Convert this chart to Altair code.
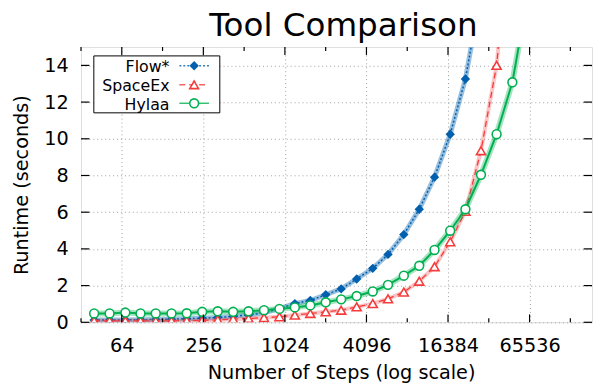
import altair as alt
import pandas as pd

# ---------------- data ----------------
steps = [40, 52, 68, 88, 114, 149, 193, 251, 327, 425, 552, 718, 933, 1213,
         1577, 2050, 2665, 3470, 4560, 5910, 7730, 10050, 13030, 17010,
         22030, 28700, 37420, 48920, 63600]
flow_runtime = [0.12, 0.12, 0.13, 0.14, 0.15, 0.17, 0.19, 0.22, 0.26, 0.32,
                0.40, 0.52, 0.74, 1.02, 1.19, 1.50, 1.82, 2.36, 2.94, 3.70,
                4.78, 6.16, 7.91, 10.25, 13.26, 18.0]
spaceex_runtime = [0.08, 0.08, 0.08, 0.08, 0.08, 0.08, 0.09, 0.10, 0.13, 0.17,
                   0.21, 0.25, 0.30, 0.39, 0.48, 0.57, 0.66, 0.84, 1.02, 1.28,
                   1.65, 2.24, 3.03, 4.39, 6.05, 9.35, 14.0, 23.0]
hylaa_runtime = [0.48, 0.48, 0.53, 0.48, 0.48, 0.48, 0.49, 0.57, 0.60, 0.57,
                 0.60, 0.66, 0.73, 0.81, 0.92, 1.09, 1.25, 1.43, 1.68, 2.04,
                 2.54, 3.08, 3.94, 4.99, 6.16, 8.04, 10.25, 13.08, 17.8]
series_names = ["Flow*", "SpaceEx", "Hylaa"]
x_major_ticks = [64, 256, 1024, 4096, 16384, 65536]
x_minor_ticks = [32, 128, 512, 2048, 8192, 32768, 131072]
y_ticks = [0, 2, 4, 6, 8, 10, 12, 14]
chart_title = "Tool Comparison"

# ---------------- styling ----------------
FONT = "DejaVu Sans"
W, H = 518, 279
FLOW_C = "#0060ad"
SPACE_C = "#f53c3c"
HYLAA_C = "#00b050"
GRID_C = "#a0a0a0"

xscale = alt.Scale(type="log", base=2, domain=[32, 189500], nice=False)
yscale = alt.Scale(domain=[0, 15], nice=False, zero=False)

x_axis = alt.Axis(values=x_major_ticks, title="Number of Steps (log scale)",
                  format="d", grid=True, gridDash=[1, 3], gridColor=GRID_C,
                  gridWidth=1, ticks=False, domain=False, labelFont=FONT,
                  labelFontSize=19.5, labelColor="black", labelPadding=15,
                  labelFlush=False, labelOverlap=False, titleFont=FONT,
                  titleFontSize=19.5, titleFontWeight="normal",
                  titleColor="black", titleX=263.6, titleY=57,
                  titleBaseline="alphabetic", titleAlign="center")
y_axis = alt.Axis(values=y_ticks, title="Runtime (seconds)", grid=True,
                  gridDash=[1, 3], gridColor=GRID_C, gridWidth=1, ticks=False,
                  domain=False, labelFont=FONT, labelFontSize=19.5,
                  labelColor="black", labelPadding=13, labelFlush=False,
                  titleFont=FONT, titleFontSize=19.5, titleFontWeight="normal",
                  titleColor="black", titleAngle=270, titleX=-54,
                  titleY=H / 2, titleBaseline="alphabetic", titleAlign="center")

X = alt.X("steps:Q", scale=xscale, axis=x_axis)
Y = alt.Y("runtime:Q", scale=yscale, axis=y_axis)

flow_df = pd.DataFrame({"steps": steps[:len(flow_runtime)], "runtime": flow_runtime})
space_df = pd.DataFrame({"steps": steps[:len(spaceex_runtime)], "runtime": spaceex_runtime})
hylaa_df = pd.DataFrame({"steps": steps[:len(hylaa_runtime)], "runtime": hylaa_runtime})


def series_layers(df, color, band_w, band_op, line_w, dash, shape, size,
                  filled):
    band = alt.Chart(df).mark_line(color=color, strokeWidth=band_w,
                                   opacity=band_op, clip=True).encode(x=X, y=Y)
    lkw = dict(color=color, strokeWidth=line_w, clip=True)
    if dash:
        lkw["strokeDash"] = dash
    line = alt.Chart(df).mark_line(**lkw).encode(x=X, y=Y)
    if filled:
        pts = alt.Chart(df).mark_point(shape=shape, size=size, filled=True,
                                       color=color, opacity=1, clip=True)
    else:
        pts = alt.Chart(df).mark_point(shape=shape, size=size, filled=True,
                                       fill="white", stroke=color,
                                       strokeWidth=1.6, opacity=1, clip=True)
    return [band, line, pts.encode(x=X, y=Y)]


layers = []
layers += series_layers(flow_df, FLOW_C, 5, 0.4, 1.5, [2, 2], "diamond", 90, True)
layers += series_layers(space_df, SPACE_C, 4, 0.3, 1.3, [6, 4], "triangle-up", 85, False)
layers += series_layers(hylaa_df, HYLAA_C, 6, 0.35, 2, None, "circle", 80, False)

# inward tick marks (gnuplot style), mirrored on all four sides
maj_df = pd.DataFrame({"steps": x_major_ticks})
min_df = pd.DataFrame({"steps": x_minor_ticks})
yt_df = pd.DataFrame({"runtime": y_ticks})
tick = dict(color="black", strokeWidth=1.2)
layers += [
    alt.Chart(maj_df).mark_rule(**tick).encode(x=X, y=alt.value(H), y2=alt.value(H - 8)),
    alt.Chart(maj_df).mark_rule(**tick).encode(x=X, y=alt.value(0), y2=alt.value(8)),
    alt.Chart(min_df).mark_rule(**tick).encode(x=X, y=alt.value(H), y2=alt.value(H - 4)),
    alt.Chart(min_df).mark_rule(**tick).encode(x=X, y=alt.value(0), y2=alt.value(4)),
    alt.Chart(yt_df).mark_rule(**tick).encode(y=Y, x=alt.value(0), x2=alt.value(8.5)),
    alt.Chart(yt_df).mark_rule(**tick).encode(y=Y, x=alt.value(W - 8.5), x2=alt.value(W)),
]

one = pd.DataFrame({"k": [0]})

# chart title as a text mark above the plot area
layers.append(alt.Chart(one).mark_text(
    text=chart_title, align="center", baseline="alphabetic", font=FONT,
    fontSize=33, color="black").encode(x=alt.value(W / 2 + 7), y=alt.value(-10.7)))

# key box (top left, inside the plot)
layers.append(alt.Chart(one).mark_rect(fill="white", stroke="black",
                                       strokeWidth=1).encode(
    x=alt.value(13), x2=alt.value(140.7), y=alt.value(9), y2=alt.value(66.7)))
key_rows = [
    (series_names[0], FLOW_C, [2, 2], "diamond", True, 25, 19),
    (series_names[1], SPACE_C, [6, 4], "triangle-up", False, 44.7, 38.3),
    (series_names[2], HYLAA_C, None, "circle", False, 64.3, 57),
]
for name, color, dash, shape, filled, ybase, ymid in key_rows:
    layers.append(alt.Chart(one).mark_text(
        text=name, align="right", baseline="alphabetic", font=FONT,
        fontSize=16, color="black").encode(x=alt.value(89.7), y=alt.value(ybase)))
    rkw = dict(color=color, strokeWidth=1.5, opacity=0.8)
    if dash:
        rkw["strokeDash"] = dash
    layers.append(alt.Chart(one).mark_rule(**rkw).encode(
        x=alt.value(99.7), x2=alt.value(129.7), y=alt.value(ymid)))
    if filled:
        pk = dict(shape=shape, size=90, filled=True, color=color, opacity=1)
    else:
        pk = dict(shape=shape, size=80, filled=True, fill="white",
                  stroke=color, strokeWidth=1.6, opacity=1)
    layers.append(alt.Chart(one).mark_point(**pk).encode(
        x=alt.value(114.7), y=alt.value(ymid)))

chart = alt.layer(*layers).properties(
    width=W, height=H,
    autosize=alt.AutoSizeParams(type="none"),
    padding={"left": 74, "top": 37, "right": 2, "bottom": 61},
).configure_view(stroke="black", strokeWidth=1.3).configure(background="white")

chart.save("out.html", embed_options={"renderer": "svg", "actions": False})
